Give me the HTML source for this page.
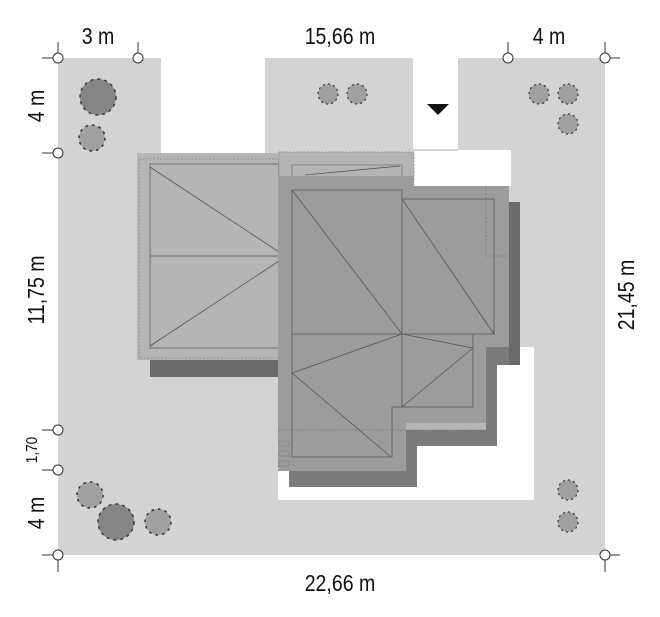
<!DOCTYPE html>
<html><head><meta charset="utf-8"><style>
html,body{margin:0;padding:0;background:#fff;width:660px;height:617px;overflow:hidden}
svg{display:block}
text{font-family:"Liberation Sans",sans-serif;font-size:23px;fill:#111}
</style></head><body>
<svg width="660" height="617" viewBox="0 0 660 617" xmlns="http://www.w3.org/2000/svg">
<defs>
<g id="tree">
<circle r="10" fill="#a0a0a0"/>
<circle r="10" fill="none" stroke="#333" stroke-width="1.2" stroke-dasharray="2 3.2"/>
</g>
<g id="tbig">
<circle r="18" fill="#858585"/>
<circle r="18" fill="none" stroke="#333" stroke-width="1.4" stroke-dasharray="3 4"/>
</g>
</defs>
<rect x="58" y="58" width="547" height="497" fill="#d3d3d3"/>
<rect x="161" y="57" width="104" height="97" fill="#fff"/>
<rect x="413" y="57" width="45" height="93" fill="#fff"/>
<rect x="413" y="150" width="98" height="36" fill="#fff"/>
<line x1="413" y1="150" x2="458" y2="150" stroke="#aaa" stroke-width="1"/>
<rect x="278" y="347" width="256" height="153" fill="#fff"/>
<rect x="150" y="355" width="130" height="22" fill="#6b6b6b"/>
<polygon points="289,192 425,192 425,202 520,202 520,365 497,365 497,446 417,446 417,487 289,487" fill="#7b7b7b"/>
<rect x="509" y="202" width="11" height="163" fill="#6b6b6b"/>
<rect x="137" y="153" width="143" height="207" fill="#b5b5b5"/>
<rect x="139" y="159" width="140" height="199" fill="none" stroke="#888" stroke-width="0.8" stroke-dasharray="2 1.5"/>
<rect x="150" y="164" width="129" height="184" fill="none" stroke="#888" stroke-width="1.5"/>
<g stroke="#555" stroke-width="0.8" fill="none">
<line x1="150" y1="167" x2="279" y2="252"/>
<line x1="150" y1="256" x2="279" y2="256"/>
<line x1="279" y1="261" x2="150" y2="346"/>
</g>
<rect x="279" y="152" width="135" height="30" fill="#b5b5b5"/>
<rect x="279" y="152" width="135" height="30" fill="none" stroke="#888" stroke-width="0.8" stroke-dasharray="2 1.5"/>
<rect x="292" y="165" width="110" height="14" fill="none" stroke="#777" stroke-width="0.8"/>
<line x1="305" y1="175" x2="400" y2="166" stroke="#555" stroke-width="0.8"/>
<polygon points="278,176 414,176 414,186 509,186 509,347 486,347 486,430 406,430 406,471 278,471" fill="#9c9c9c"/>
<polyline points="486,186 486,256 508,256" fill="none" stroke="#777" stroke-width="0.8" stroke-dasharray="2 1.5"/>
<rect x="406" y="423" width="80" height="7" fill="#b5b5b5"/>
<line x1="278" y1="430" x2="486" y2="430" stroke="#777" stroke-width="0.8" stroke-dasharray="2 1.5"/>
<g stroke="#666" stroke-width="1" fill="none">
<polyline points="292,190 402,190 402,199 494,199 494,334 473,334 473,407 392,407 392,457 292,457 292,190"/>
<line x1="292" y1="334" x2="473" y2="334"/>
<line x1="402" y1="190" x2="402" y2="407"/>
</g>
<g stroke="#555" stroke-width="0.8" fill="none">
<line x1="292" y1="190" x2="402" y2="334"/>
<line x1="402" y1="199" x2="494" y2="334"/>
<line x1="402" y1="334" x2="292" y2="373"/>
<line x1="292" y1="373" x2="391" y2="457"/>
<line x1="402" y1="334" x2="473" y2="348"/>
<line x1="473" y1="348" x2="402" y2="407"/>
</g>
<g fill="none" stroke="#777" stroke-width="0.7" stroke-dasharray="1.5 1">
<rect x="279" y="441" width="10" height="5"/><rect x="279" y="451" width="10" height="5"/><rect x="279" y="461" width="10" height="5"/>
</g>
<polygon points="427,104 449,104 438,115" fill="#111"/>
<use href="#tbig" x="98" y="97"/>
<use href="#tree" x="92" y="138" transform="translate(92,138) scale(1.3) translate(-92,-138)"/>
<use href="#tree" x="328" y="94"/><use href="#tree" x="357" y="94"/>
<use href="#tree" x="539" y="94"/><use href="#tree" x="568" y="94"/><use href="#tree" x="568" y="124"/>
<use href="#tree" x="90" y="495" transform="translate(90,495) scale(1.3) translate(-90,-495)"/>
<use href="#tbig" x="116" y="522"/>
<use href="#tree" x="158" y="522" transform="translate(158,522) scale(1.3) translate(-158,-522)"/>
<use href="#tree" x="568" y="490"/><use href="#tree" x="568" y="522"/>
<g stroke="#333" stroke-width="1" fill="#fff">
<line x1="58" y1="42" x2="58" y2="58"/><line x1="138" y1="42" x2="138" y2="58"/>
<line x1="508" y1="42" x2="508" y2="58"/><line x1="605" y1="42" x2="605" y2="58"/>
<line x1="42" y1="58" x2="58" y2="58"/><line x1="605" y1="58" x2="620" y2="58"/>
<line x1="42" y1="153" x2="58" y2="153"/><line x1="42" y1="430" x2="58" y2="430"/>
<line x1="42" y1="470" x2="58" y2="470"/><line x1="42" y1="555" x2="58" y2="555"/>
<line x1="58" y1="555" x2="58" y2="572"/><line x1="605" y1="555" x2="620" y2="555"/><line x1="605" y1="555" x2="605" y2="572"/>
<circle cx="58" cy="58" r="5"/><circle cx="138" cy="58" r="5"/><circle cx="508" cy="58" r="5"/><circle cx="605" cy="58" r="5"/>
<circle cx="58" cy="153" r="5"/><circle cx="58" cy="430" r="5"/><circle cx="58" cy="470" r="5"/><circle cx="58" cy="555" r="5"/><circle cx="605" cy="555" r="5"/>
</g>
<g>
<text x="98" y="44" text-anchor="middle" transform="translate(98,0) scale(0.85,1) translate(-98,0)">3 m</text>
<text x="340" y="44" text-anchor="middle" transform="translate(340,0) scale(0.85,1) translate(-340,0)">15,66 m</text>
<text x="549" y="44" text-anchor="middle" transform="translate(549,0) scale(0.85,1) translate(-549,0)">4 m</text>
<text x="340" y="591" text-anchor="middle" transform="translate(340,0) scale(0.85,1) translate(-340,0)">22,66 m</text>
<text transform="translate(44,106) rotate(-90) scale(0.85,1)" text-anchor="middle">4 m</text>
<text transform="translate(44,290) rotate(-90) scale(0.85,1)" text-anchor="middle">11,75 m</text>
<text transform="translate(37,450) rotate(-90) scale(0.85,1)" text-anchor="middle" style="font-size:16px">1,70</text>
<text transform="translate(44,513) rotate(-90) scale(0.85,1)" text-anchor="middle">4 m</text>
<text transform="translate(634,295) rotate(-90) scale(0.85,1)" text-anchor="middle">21,45 m</text>
</g>
</svg>
</body></html>
